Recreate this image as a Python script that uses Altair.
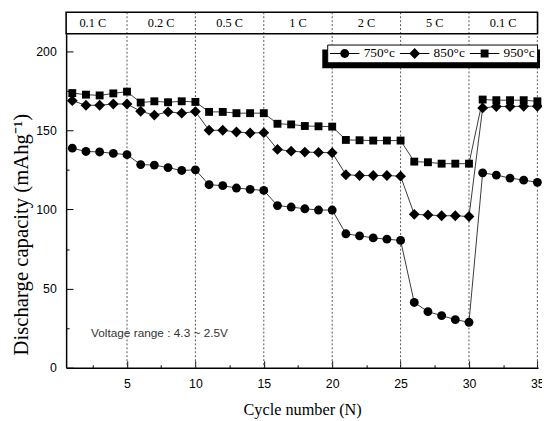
import altair as alt
import pandas as pd

# ---------------- data ----------------
cycles = list(range(1, 36))
cap_750 = [138.7, 136.6, 136.3, 135.4, 134.6, 128.3, 128.0, 126.4, 124.6, 125.0,
           115.6, 115.0, 113.5, 112.7, 112.0, 102.4, 101.5, 100.4, 99.6, 99.6,
           84.6, 83.3, 82.0, 81.2, 80.4, 41.2, 35.4, 32.9, 30.4, 28.7,
           123.1, 121.7, 119.8, 118.5, 117.1]
cap_850 = [168.7, 165.8, 165.8, 166.6, 166.6, 162.0, 159.6, 161.6, 160.8, 161.8,
           150.0, 150.0, 148.9, 148.3, 148.5, 137.9, 136.8, 136.2, 136.0, 135.8,
           121.9, 121.4, 121.4, 121.4, 121.0, 96.9, 96.5, 96.0, 96.0, 95.5,
           164.1, 165.0, 165.0, 165.2, 165.2]
cap_950 = [173.5, 172.5, 172.0, 173.3, 174.4, 167.5, 168.3, 167.7, 168.3, 167.9,
           161.6, 161.6, 160.8, 160.8, 160.8, 154.1, 153.7, 152.7, 152.5, 152.3,
           143.9, 143.7, 143.5, 143.5, 143.5, 130.2, 129.8, 128.9, 128.9, 128.9,
           169.4, 169.0, 169.0, 169.0, 168.3]
series_names = ["750°c", "850°c", "950°c"]

stage_labels = ["0.1 C", "0.2 C", "0.5 C", "1 C", "2 C", "5 C", "0.1 C"]
stage_centers = [2.5, 7.5, 12.5, 17.5, 22.5, 27.5, 32.5]
stage_bounds = [5, 10, 15, 20, 25, 30, 35]

x_labels = [5, 10, 15, 20, 25, 30, 35]
x_ticks = [2.5, 5, 7.5, 10, 12.5, 15, 17.5, 20, 22.5, 25, 27.5, 30, 32.5, 35]
y_labels = [0, 50, 100, 150, 200]
y_ticks = [0, 25, 50, 75, 100, 125, 150, 175, 200]

note_text = ["Voltage range : 4.3 ~ 2.5V"]
note_x = [2.37]
note_y = [22.0]

# ---------------- layout / styles ----------------
W, H = 479, 339
BAND = 21.7
SERIF = "Liberation Serif"
SANS = "Liberation Sans"

df = pd.DataFrame({
    "cycle": cycles * 3,
    "capacity": cap_750 + cap_850 + cap_950,
    "series": [series_names[0]] * 35 + [series_names[1]] * 35 + [series_names[2]] * 35,
})
one = pd.DataFrame({"k": [0]})

xs = alt.Scale(domain=[0.55, 35.05], zero=False, nice=False)
ys = alt.Scale(domain=[0, 211], zero=False, nice=False)

# legend symbols: thin line + marker, in pixel units (symbolSize 4 -> scale 1)
LINE = "M-14,0 M-6,-0.5H24V0.5H-6Z "
legend_paths = [
    LINE + "M13.5,0A4.5,4.5,0,1,1,4.5,0A4.5,4.5,0,1,1,13.5,0Z",
    LINE + "M3.5,0L9,-5.5L14.5,0L9,5.5Z",
    LINE + "M5,-4H13V4H5Z",
]

rules = alt.Chart(pd.DataFrame({"b": stage_bounds})).mark_rule(
    color="#555555", strokeWidth=1, strokeDash=[2, 2]
).encode(
    x=alt.X("b:Q", scale=xs, axis=alt.Axis(
        orient="top", offset=-H, values=x_ticks, labels=False, domain=False,
        grid=False, tickColor="black", tickWidth=1,
        tickSize={"condition": {"test": "datum.value % 5 === 0", "value": 7}, "value": 3},
        title=None)),
    y=alt.value(-BAND),
    y2=alt.value(H),
)

band = alt.Chart(one).mark_rect(fillOpacity=0, stroke="black", strokeWidth=1.6).encode(
    x=alt.value(0), x2=alt.value(478.5), y=alt.value(-BAND), y2=alt.value(0)
)

band_text = alt.Chart(pd.DataFrame({"m": stage_centers, "t": stage_labels})).mark_text(
    font=SERIF, fontSize=12.5, color="black", baseline="middle"
).encode(
    x=alt.X("m:Q", scale=xs, axis=None),
    y=alt.value(-BAND / 2),
    text="t:N",
)

lines = alt.Chart(df).mark_line(color="#3a3a3a", strokeWidth=1).encode(
    x=alt.X("cycle:Q", scale=xs, axis=alt.Axis(
        orient="bottom", values=x_labels, ticks=False, labelPadding=10,
        domainColor="black", domainWidth=1.5, grid=False, labelFlush=False,
        format="d", title="Cycle number (N)", titleFont=SERIF, titleFontSize=16.5,
        titleFontWeight="normal", titleColor="black", titleY=47,
        titleBaseline="alphabetic")),
    y=alt.Y("capacity:Q", scale=ys, axis=alt.Axis(
        orient="left", values=y_labels, ticks=False, labelPadding=10,
        domainColor="black", domainWidth=1.5, grid=False, labelFlush=False,
        format="d", title="Discharge capacity (mAhg⁻¹)", titleFont=SERIF,
        titleFontSize=21, titleFontWeight="normal", titleColor="black",
        titleX=-45, titleY=203.5, titleAngle=270, titleBaseline="middle")),
    detail="series:N",
)

marker_shapes = ["circle", "diamond", "square"]
marker_sizes = [81, 121, 64]
point_layers = []
for i, (name, shp, sz) in enumerate(zip(series_names, marker_shapes, marker_sizes)):
    if i == 0:
        yaxis = alt.Axis(
            orient="right", offset=-W, values=y_ticks, labels=False, domain=False,
            grid=False, tickColor="black", tickWidth=1,
            tickSize={"condition": {"test": "datum.value % 50 === 0", "value": 7}, "value": 3},
            title=None)
    else:
        yaxis = None
    point_layers.append(
        alt.Chart(df).transform_filter(alt.datum.series == name)
        .mark_point(filled=True, color="black", opacity=1, shape=shp, size=sz)
        .encode(
            x=alt.X("cycle:Q", scale=xs, axis=None),
            y=alt.Y("capacity:Q", scale=ys, axis=yaxis),
        )
    )

legend_layer = alt.Chart(df).mark_point(filled=True, color="black", opacity=0).encode(
    x=alt.X("cycle:Q", scale=xs, axis=None),
    y=alt.Y("capacity:Q", scale=ys, axis=None),
    shape=alt.Shape("series:N", scale=alt.Scale(domain=series_names, range=legend_paths),
                    legend=alt.Legend(
                        title=None, orient="none", legendX=265, legendY=11,
                        direction="horizontal", symbolSize=4, symbolOpacity=1,
                        symbolFillColor="black", symbolStrokeWidth=0,
                        labelFont=SERIF, labelFontSize=13.5,
                        labelColor="black", labelOffset=21.5, columnPadding=-4,
                        padding=2, fillColor="white", strokeColor="black")),
)

shadow = alt.Chart(one).mark_rect(color="black").encode(
    x=alt.value(260), x2=alt.value(481), y=alt.value(16), y2=alt.value(35)
)

note = alt.Chart(pd.DataFrame({"x": note_x, "y": note_y, "t": note_text})).mark_text(
    align="left", baseline="middle", font=SANS, fontSize=12, color="#333333"
).encode(
    x=alt.X("x:Q", scale=xs, axis=None),
    y=alt.Y("y:Q", scale=ys, axis=None),
    text="t:N",
)

chart = alt.layer(
    rules, band, band_text, lines, *point_layers, legend_layer, note, shadow
).resolve_scale(
    shape="independent"
).resolve_axis(
    x="independent", y="independent"
).properties(
    width=W, height=H,
    padding={"left": 59, "top": 23, "right": 4, "bottom": 51},
    autosize=alt.AutoSizeParams(type="none"),
).configure_view(
    strokeWidth=0
).configure_axis(
    labelFont=SANS, labelFontSize=12.5, labelColor="black"
)

chart.save("out.html", embed_options={"renderer": "svg", "actions": False})
